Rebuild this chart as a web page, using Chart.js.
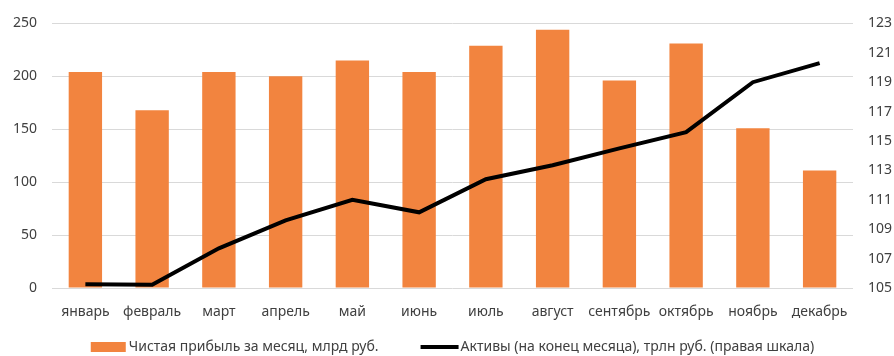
<!DOCTYPE html>
<html>
<head>
<meta charset="utf-8">
<script src="https://cdn.jsdelivr.net/npm/chart.js@4.4.0/dist/chart.umd.min.js"></script>
<style>
  html, body { margin: 0; padding: 0; background: #ffffff; }
  #wrap { width: 894px; height: 356px; }
</style>
</head>
<body>
<div id="wrap"><canvas id="chart" width="894" height="356"></canvas></div>
<script>
// Месяцы года
const months = ['январь', 'февраль', 'март', 'апрель', 'май', 'июнь',
                'июль', 'август', 'сентябрь', 'октябрь', 'ноябрь', 'декабрь'];

// Чистая прибыль за месяц, млрд руб.
const netProfit = [204, 168, 204, 200, 215, 204, 229, 244, 196, 231, 151, 111];

// Активы на конец месяца, трлн руб.
const assets = [105.25, 105.22, 107.7, 109.6, 111.0, 110.15, 112.4, 113.35, 114.5, 115.6, 119.0, 120.3];

const profitLabel = 'Чистая прибыль за месяц, млрд руб.';
const assetsLabel = 'Активы (на конец месяца), трлн руб. (правая шкала)';

const FONT = '"Noto Sans", "Open Sans", sans-serif';
const TEXT = '#404040';
const ORANGE = '#F2843F';

// Legend drawn below the plot: orange box for bars, thick black stroke for the line
const bottomLegend = {
  id: 'bottomLegend',
  afterDraw(chart) {
    const ctx = chart.ctx;
    const area = chart.chartArea;
    ctx.save();
    ctx.font = '14px ' + FONT;
    ctx.textBaseline = 'middle';
    ctx.fillStyle = TEXT;
    const y = 347;
    const boxW = 35, boxH = 10, lineW = 38;
    const w1 = ctx.measureText(profitLabel).width;
    const w2 = ctx.measureText(assetsLabel).width;
    const total = boxW + 3 + w1 + 42 + lineW + 2 + w2;
    let x = (area.left + area.right) / 2 - total / 2;
    ctx.fillStyle = ORANGE;
    ctx.fillRect(x, y - boxH / 2, boxW, boxH);
    x += boxW + 3;
    ctx.fillStyle = TEXT;
    ctx.fillText(profitLabel, x, y);
    x += w1 + 42;
    ctx.strokeStyle = '#000000';
    ctx.lineWidth = 4;
    ctx.beginPath();
    ctx.moveTo(x, y);
    ctx.lineTo(x + lineW, y);
    ctx.stroke();
    x += lineW + 2;
    ctx.fillText(assetsLabel, x, y);
    ctx.restore();
  }
};

new Chart(document.getElementById('chart'), {
  data: {
    labels: months,
    datasets: [
      {
        type: 'line',
        label: assetsLabel,
        data: assets,
        yAxisID: 'yRight',
        borderColor: '#000000',
        borderWidth: 4,
        pointRadius: 0,
        tension: 0,
        fill: false,
        order: 0
      },
      {
        type: 'bar',
        label: profitLabel,
        data: netProfit,
        yAxisID: 'yLeft',
        backgroundColor: ORANGE,
        borderWidth: 0,
        barPercentage: 0.5,
        categoryPercentage: 1.0,
        order: 1
      }
    ]
  },
  options: {
    responsive: false,
    animation: false,
    layout: { padding: { top: 21, bottom: 24, left: 0, right: 0 } },
    plugins: {
      legend: { display: false },
      tooltip: { enabled: false }
    },
    scales: {
      x: {
        grid: { display: false },
        border: { display: false },
        ticks: {
          color: TEXT,
          font: { family: FONT, size: 14 },
          padding: 8,
          maxRotation: 0,
          autoSkip: false
        },
        afterFit(scale) { scale.height = 44; }
      },
      yLeft: {
        type: 'linear',
        position: 'left',
        min: 0,
        max: 250,
        grid: { color: '#d9d9d9', lineWidth: 1, drawTicks: false },
        border: { display: false },
        ticks: {
          stepSize: 50,
          color: TEXT,
          font: { family: FONT, size: 14 },
          padding: 15
        },
        afterFit(scale) { scale.width = 52; }
      },
      yRight: {
        type: 'linear',
        position: 'right',
        min: 105,
        max: 123,
        grid: { display: false, drawTicks: false },
        border: { display: false },
        ticks: {
          stepSize: 2,
          color: TEXT,
          font: { family: FONT, size: 14 },
          padding: 15
        },
        afterFit(scale) { scale.width = 41; }
      }
    }
  },
  plugins: [bottomLegend]
});
</script>
</body>
</html>
